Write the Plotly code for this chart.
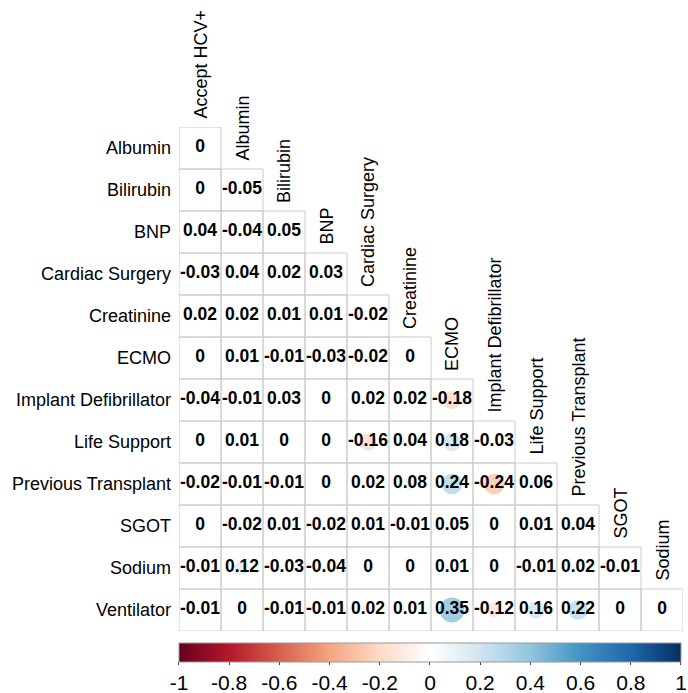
import numpy as np
import plotly.graph_objects as go

# Variables on each axis (lower triangle including the diagonal)
row_vars = ["Albumin", "Bilirubin", "BNP", "Cardiac Surgery", "Creatinine", "ECMO",
            "Implant Defibrillator", "Life Support", "Previous Transplant", "SGOT",
            "Sodium", "Ventilator"]
col_vars = ["Accept HCV+", "Albumin", "Bilirubin", "BNP", "Cardiac Surgery", "Creatinine",
            "ECMO", "Implant Defibrillator", "Life Support", "Previous Transplant",
            "SGOT", "Sodium"]

# Correlation coefficients, one list per row
corr_rows = [
    [0],
    [0, -0.05],
    [0.04, -0.04, 0.05],
    [-0.03, 0.04, 0.02, 0.03],
    [0.02, 0.02, 0.01, 0.01, -0.02],
    [0, 0.01, -0.01, -0.03, -0.02, 0],
    [-0.04, -0.01, 0.03, 0, 0.02, 0.02, -0.18],
    [0, 0.01, 0, 0, -0.16, 0.04, 0.18, -0.03],
    [-0.02, -0.01, -0.01, 0, 0.02, 0.08, 0.24, -0.24, 0.06],
    [0, -0.02, 0.01, -0.02, 0.01, -0.01, 0.05, 0, 0.01, 0.04],
    [-0.01, 0.12, -0.03, -0.04, 0, 0, 0.01, 0, -0.01, 0.02, -0.01],
    [-0.01, 0, -0.01, -0.01, 0.02, 0.01, 0.35, -0.12, 0.16, 0.22, 0, 0],
]

colorbar_ticks = [-1, -0.8, -0.6, -0.4, -0.2, 0, 0.2, 0.4, 0.6, 0.8, 1]

# corrplot-style RdBu palette with a white midpoint
rdbu = ["#67001F", "#B2182B", "#D6604D", "#F4A582", "#FDDBC7", "#FFFFFF",
        "#D1E5F0", "#92C5DE", "#4393C3", "#2166AC", "#053061"]
colorscale = [[k / (len(rdbu) - 1), c] for k, c in enumerate(rdbu)]

CELL = 42  # pixel size of one grid cell
FONT = "Arial, Liberation Sans, sans-serif"

xs, ys, vals = [], [], []
for i, row in enumerate(corr_rows):
    for j, v in enumerate(row):
        xs.append(j)
        ys.append(i)
        vals.append(v)
vals = np.array(vals)
sizes = np.sqrt(np.abs(vals)) * CELL
labels = [f"<b>{v:g}</b>" for v in vals]

fig = go.Figure()

# grid cells
for i, row in enumerate(corr_rows):
    for j in range(len(row)):
        fig.add_shape(type="rect", xref="x", yref="y",
                      x0=j - 0.5, x1=j + 0.5, y0=i - 0.5, y1=i + 0.5,
                      line=dict(color="#cccccc", width=1), fillcolor="rgba(0,0,0,0)",
                      layer="below")

fig.add_trace(go.Scatter(
    x=xs, y=ys, mode="markers+text",
    text=labels, textposition="middle center",
    textfont=dict(family=FONT, size=17.5, color="black"),
    marker=dict(
        size=sizes, color=vals, colorscale=colorscale, cmin=-1, cmax=1,
        line=dict(width=0), opacity=1,
        colorbar=dict(
            orientation="h", x=0.498, xanchor="center", y=-0.0232, yanchor="top",
            len=0.996, lenmode="fraction", thickness=19, xpad=0, ypad=0,
            outlinewidth=1, outlinecolor="#999999",
            tickvals=colorbar_ticks, ticktext=[f"{t:g}" for t in colorbar_ticks],
            ticks="outside", ticklen=3, tickcolor="#444444",
            ticklabeloverflow="allow",
            tickfont=dict(family=FONT, size=21, color="black"),
        ),
    ),
    hoverinfo="skip", showlegend=False, cliponaxis=False,
))

# row labels
for i, name in enumerate(row_vars):
    fig.add_annotation(x=-0.5, y=i, xref="x", yref="y", text=name, showarrow=False,
                       xanchor="right", yanchor="middle", xshift=-6,
                       font=dict(family=FONT, size=18, color="black"))

# column labels, rotated, sitting on top of each column's diagonal cell
for j, name in enumerate(col_vars):
    fig.add_annotation(x=j, y=j - 0.5, xref="x", yref="y", text=name, showarrow=False,
                       textangle=-90, xanchor="center", yanchor="bottom", yshift=6,
                       font=dict(family=FONT, size=18, color="black"))

fig.update_xaxes(range=[-0.5, 11.5], visible=False, fixedrange=True)
fig.update_yaxes(range=[11.5, -0.5], visible=False, fixedrange=True)
fig.update_layout(
    width=688, height=693,
    margin=dict(l=179, r=5, t=127, b=62, autoexpand=False),
    plot_bgcolor="white", paper_bgcolor="white",
)

fig.write_html("out.html", config={"displayModeBar": False})
